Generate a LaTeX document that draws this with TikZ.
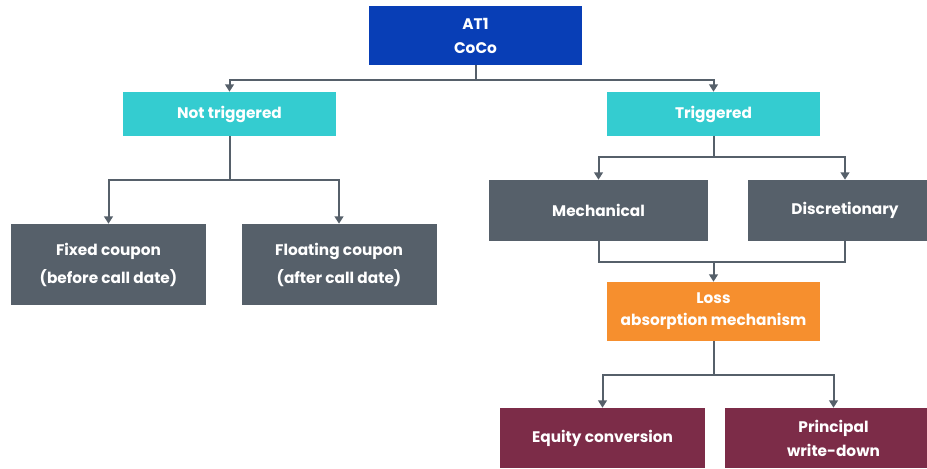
\documentclass[tikz,border=0pt]{standalone}
\usepackage{fontspec}
\setmainfont{Poppins}
\usetikzlibrary{arrows.meta}
\definecolor{cocoblue}{RGB}{8,62,182}
\definecolor{trigcyan}{RGB}{52,204,208}
\definecolor{slategray}{RGB}{86,96,106}
\definecolor{lossorange}{RGB}{246,143,46}
\definecolor{wdmaroon}{RGB}{124,44,72}

\begin{document}
\begin{tikzpicture}[x=0.75pt, y=-0.75pt,
		box/.style={draw=none, text=white, font=\fontsize{11.5}{18}\selectfont\bfseries, align=center, inner sep=0pt},
		link/.style={draw=slategray, line width=1.5pt},
		arr/.style={link, -{Triangle[width=6.5pt,length=5.5pt]}}]
		%%%%% START %%%%%
		\useasboundingbox (0, 0) rectangle (927, 468);
		\clip (0, 0) rectangle (927, 468);
		
		\node[box, fill=cocoblue, minimum width=159.75pt, minimum height=44.25pt] (coco) at (475.5, 35.5) {AT1\\CoCo};
		
		\node[box, fill=trigcyan, minimum width=159.75pt, minimum height=33pt] (nottrig) at (229.5, 114) {Not triggered};
		\node[box, fill=trigcyan, minimum width=159.75pt, minimum height=33pt] (trig) at (713.5, 114) {Triggered};
		
		\node[box, fill=slategray, minimum width=146.25pt, minimum height=60.75pt, font=\fontsize{11.5}{21}\selectfont\bfseries] (fixed) at (108.5, 264.5) {Fixed coupon\\(before call date)};
		\node[box, fill=slategray, minimum width=146.25pt, minimum height=60.75pt, font=\fontsize{11.5}{21}\selectfont\bfseries] (floating) at (339, 264.5) {Floating coupon\\(after call date)};
		
		\node[box, fill=slategray, minimum width=164.25pt, minimum height=45.75pt] (mech) at (598.5, 210.5) {Mechanical};
		\node[box, fill=slategray, minimum width=145.5pt, minimum height=45.75pt] (disc) at (845, 210.5) {Discretionary};
		
		\node[box, fill=lossorange, minimum width=159.75pt, minimum height=44.25pt, font=\fontsize{11.5}{16.5}\selectfont\bfseries] (loss) at (713.5, 311.5) {Loss\\absorption mechanism};
		
		\node[box, fill=wdmaroon, minimum width=153.75pt, minimum height=45pt] (equity) at (602.5, 438) {Equity conversion};
		\node[box, fill=wdmaroon, minimum width=162.75pt, minimum height=45pt] (principal) at (833.5, 438) {Principal\\write-down};
		
		% joints
		\coordinate (j1) at (475.5, 80);
		\coordinate (j2) at (229.5, 180);
		\coordinate (j3) at (713.5, 157);
		\coordinate (j4) at (713.5, 262);
		\coordinate (j5) at (713.5, 375);
		
		\draw[link] (coco) -- (j1);
		\draw[arr] (j1) -| (nottrig);
		\draw[arr] (j1) -| (trig);
		
		\draw[link] (nottrig) -- (j2);
		\draw[arr] (j2) -| (fixed);
		\draw[arr] (j2) -| (floating);
		
		\draw[link] (trig) -- (j3);
		\draw[arr] (j3) -| (mech);
		\draw[arr] (j3) -| (disc);
		
		\draw[link] (mech) |- (j4) -| (disc);
		\draw[arr] (j4) -- (loss);
		
		\draw[link] (loss) -- (j5);
		\draw[arr] (j5) -| (equity);
		\draw[arr] (j5) -| (principal);
		%%%%% END %%%%%
\end{tikzpicture}
\end{document}
